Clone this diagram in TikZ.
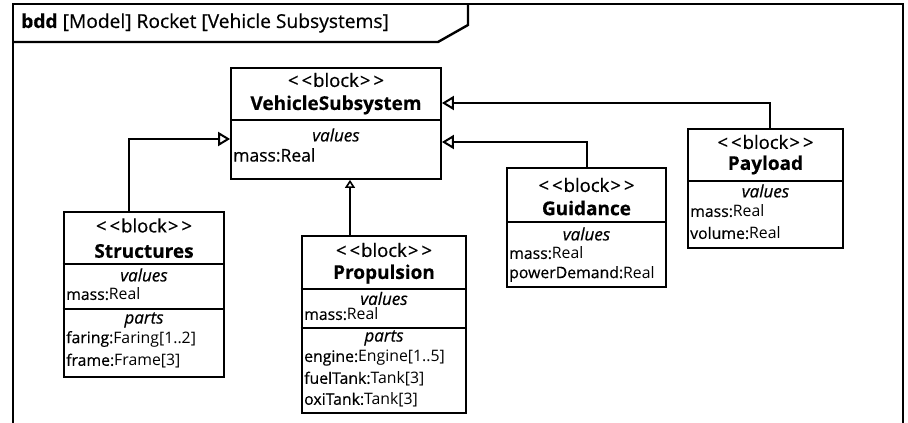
\documentclass[tikz,border=0pt]{standalone}
\usepackage{fontspec}
\setmainfont{Open Sans}[FakeBold=0.5]
\newfontfamily\ltfam{Open Sans}
\usetikzlibrary{arrows.meta}
\newcommand{\stereo}{<\kern3pt<\kern1pt block\kern1pt>\kern3pt>}
\newcommand{\lgt}[1]{{\ltfam #1}}
\tikzset{
  blk/.style={draw, rectangle, line width=1.8pt, inner sep=0pt},
  thickblk/.style={blk, line width=2.8pt},
  sepline/.style={line width=1.5pt},
  hdr/.style={inner sep=0pt, anchor=center, font=\fontsize{18.5}{18.5}\selectfont},
  ttl/.style={inner sep=0pt, anchor=center, font=\fontsize{19}{19}\selectfont\bfseries},
  cmp/.style={inner sep=0pt, anchor=center, font=\fontsize{17}{17}\selectfont\itshape},
  ln/.style={inner sep=0pt, anchor=west, font=\fontsize{15.8}{15.8}\selectfont},
  bigln/.style={inner sep=0pt, anchor=west, font=\fontsize{17.5}{17.5}\selectfont},
  gen/.style={line width=2.4pt, -{Triangle[open, length=12pt, width=14pt, line width=2pt]}},
  gensmall/.style={line width=2.4pt, -{Triangle[open, length=8pt, width=10pt, line width=1.6pt]}},
  frm/.style={line width=2.4pt}
}
\begin{document}
\begin{tikzpicture}[x=1pt, y=-1pt]
\useasboundingbox (0,0) rectangle (908,423);
% frame
\draw[frm] (13,440) -- (13,4) -- (903,4) -- (903,440);
\draw[frm] (13,42) -- (438,42) -- (468,25) -- (468,4);
\node[inner sep=0pt, anchor=west, font=\fontsize{19.2}{19.2}\selectfont] (title) at (21,23) {\textbf{bdd} [Model] Rocket [Vehicle Subsystems]};

% VehicleSubsystem
\node[blk, minimum width=210pt, minimum height=111pt] (vs) at (336,123.5) {};
\draw[sepline] (vs.west |- 0,120) -- (vs.east |- 0,120);
\node[hdr] (vs-st) at (336,80) {\stereo};
\node[ttl] (vs-nm) at (336,105) {VehicleSubsystem};
\node[cmp] (vs-val) at (336,135) {values};
\node[bigln] (vs-m) at (233,155) {mass:Real};

% Structures
\node[thickblk, minimum width=160pt, minimum height=165pt] (st) at (144,294.5) {};
\draw[sepline] (st.west |- 0,264) -- (st.east |- 0,264);
\draw[sepline] (st.west |- 0,309) -- (st.east |- 0,309);
\node[hdr] (st-st) at (144,225.5) {\stereo};
\node[ttl] (st-nm) at (144,251) {Structures};
\node[cmp] (st-val) at (144,275) {values};
\node[ln] (st-m) at (66,294) {mass:\lgt{Real}};
\node[cmp] (st-par) at (144,320) {parts};
\node[ln] (st-f1) at (66,339) {faring:\lgt{Faring[1..2]}};
\node[ln] (st-f2) at (66,361) {frame:\lgt{Frame[3]}};

% Propulsion
\node[thickblk, minimum width=164pt, minimum height=177pt] (pr) at (384,324.5) {};
\draw[sepline] (pr.west |- 0,289) -- (pr.east |- 0,289);
\draw[sepline] (pr.west |- 0,328) -- (pr.east |- 0,328);
\node[hdr] (pr-st) at (384,250) {\stereo};
\node[ttl] (pr-nm) at (384,274) {Propulsion};
\node[cmp] (pr-val) at (384,298.5) {values};
\node[ln] (pr-m) at (304,314) {mass:\lgt{Real}};
\node[cmp] (pr-par) at (384,338) {parts};
\node[ln] (pr-e) at (304,358) {engine:\lgt{Engine[1..5]}};
\node[ln] (pr-f) at (304,379) {fuelTank:\lgt{Tank[3]}};
\node[ln] (pr-o) at (304,400) {oxiTank:\lgt{Tank[3]}};

% Guidance
\node[blk, minimum width=159pt, minimum height=119pt] (gu) at (586.5,227.5) {};
\draw[sepline] (gu.west |- 0,222) -- (gu.east |- 0,222);
\node[hdr] (gu-st) at (586.5,185) {\stereo};
\node[ttl] (gu-nm) at (586.5,208) {Guidance};
\node[cmp] (gu-val) at (586.5,234) {values};
\node[ln] (gu-m) at (509,253) {mass:\lgt{Real}};
\node[ln] (gu-p) at (509,274) {powerDemand:\lgt{Real}};

% Payload
\node[blk, minimum width=155pt, minimum height=119pt] (pl) at (765.5,188.5) {};
\draw[sepline] (pl.west |- 0,181) -- (pl.east |- 0,181);
\node[hdr] (pl-st) at (765.5,142) {\stereo};
\node[ttl] (pl-nm) at (765.5,165) {Payload};
\node[cmp] (pl-val) at (765.5,191) {values};
\node[ln] (pl-m) at (690,211) {mass:\lgt{Real}};
\node[ln] (pl-v) at (690,233) {volume:\lgt{Real}};

% generalizations
\coordinate (c-st) at (129,139);
\coordinate (c-pr) at (350,0);
\coordinate (c-gu) at (587,142);
\coordinate (c-pl) at (770,103);
\draw[gen] (st.north -| c-st) |- (vs.west |- c-st);
\draw[gensmall] (pr.north -| c-pr) -- (vs.south -| c-pr);
\draw[gen] (gu.north -| c-gu) |- (vs.east |- c-gu);
\draw[gen] (pl.north -| c-pl) |- (vs.east |- c-pl);
\end{tikzpicture}
\end{document}
